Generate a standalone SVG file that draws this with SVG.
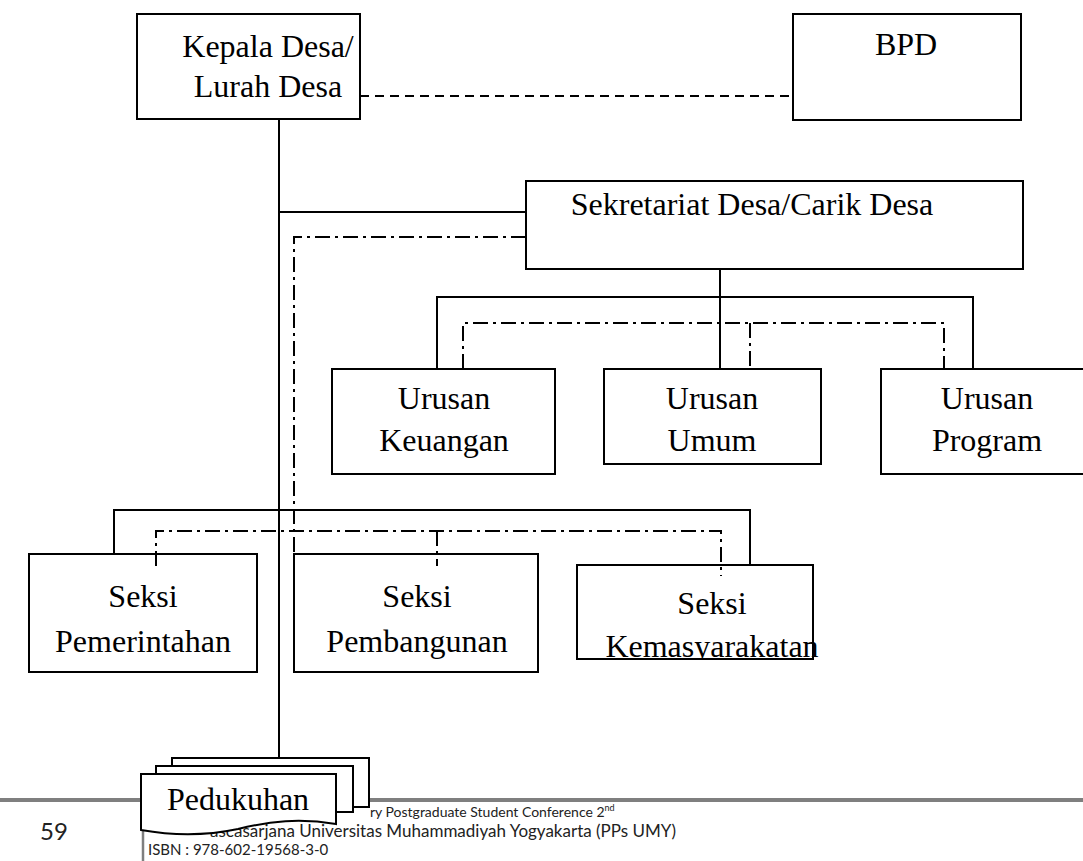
<svg xmlns="http://www.w3.org/2000/svg" width="1083" height="861" viewBox="0 0 1083 861">
<style>
.box{fill:#fff;stroke:#000;stroke-width:2}
.t{font-family:"Liberation Serif","Times New Roman",serif;font-size:32px;text-anchor:middle;fill:#000}
.ln{fill:none;stroke:#000;stroke-width:2}
.dash{stroke-dasharray:9 6}
.dd{stroke-dasharray:15 5 3 5}
.ft{font-family:Lato,"Open Sans",sans-serif;fill:#222}
.gray{stroke:#7f7f7f;fill:none}
</style>
<defs>
<clipPath id="kemclip"><rect x="560" y="566" width="300" height="93"/></clipPath>
</defs>
<rect width="1083" height="861" fill="#fff"/>
<g id="footer">
<line class="gray" x1="0" y1="800" x2="1083" y2="800" stroke-width="4"/>
<line class="gray" x1="143" y1="800" x2="143" y2="861" stroke-width="2.5"/>
<text class="ft" x="40" y="840" font-size="24">59</text>
<text class="ft" x="370" y="817" font-size="14">ry Postgraduate Student Conference 2<tspan font-size="9" dy="-6">nd</tspan></text>
<text class="ft" x="210" y="837" font-size="17">ascasarjana Universitas Muhammadiyah Yogyakarta (PPs UMY)</text>
<text class="ft" x="148" y="855" font-size="15">ISBN : 978-602-19568-3-0</text>
</g>
<g id="kepala">
<rect class="box" x="137" y="14" width="223" height="105"/>
<text class="t" x="268" y="57" font-size="28">Kepala Desa/</text>
<text class="t" x="268" y="97" font-size="28">Lurah Desa</text>
</g>
<g id="bpd">
<rect class="box" x="793" y="14" width="228" height="106"/>
<text class="t" x="906" y="55">BPD</text>
</g>
<g id="sekretariat">
<rect class="box" x="526" y="181" width="497" height="88"/>
<text class="t" x="752" y="215">Sekretariat Desa/Carik Desa</text>
</g>
<g id="keuangan">
<rect class="box" x="332" y="369" width="223" height="105"/>
<text class="t" x="444" y="409">Urusan</text>
<text class="t" x="444" y="451">Keuangan</text>
</g>
<g id="umum">
<rect class="box" x="604" y="369" width="217" height="95"/>
<text class="t" x="712" y="409">Urusan</text>
<text class="t" x="712" y="451">Umum</text>
</g>
<g id="program">
<rect class="box" x="881" y="369" width="212" height="105"/>
<text class="t" x="987" y="409">Urusan</text>
<text class="t" x="987" y="451">Program</text>
</g>
<g id="pemerintahan">
<rect class="box" x="29" y="554" width="228" height="118"/>
<text class="t" x="143" y="607">Seksi</text>
<text class="t" x="143" y="652">Pemerintahan</text>
</g>
<g id="pembangunan">
<rect class="box" x="294" y="554" width="244" height="118"/>
<text class="t" x="417" y="607">Seksi</text>
<text class="t" x="417" y="652">Pembangunan</text>
</g>
<g id="kemasyarakatan">
<rect class="box" x="577" y="565" width="236" height="94"/>
<g clip-path="url(#kemclip)">
<text class="t" x="712" y="614">Seksi</text>
<text class="t" x="712" y="657">Kemasyarakatan</text>
</g>
</g>
<g id="pedukuhan">
<rect class="box" x="172" y="758" width="197" height="49"/>
<rect class="box" x="156" y="766" width="197" height="46"/>
<path class="box" d="M141 774 H336 V824 C300 818 270 821 238 829 C205 836 175 836 141 830 Z"/>
<text class="t" x="238" y="810">Pedukuhan</text>
</g>
<g id="connectors">
<path class="ln dash" d="M360 96 H793"/>
<path class="ln" d="M279 119 V758"/>
<path class="ln" d="M279 212 H526"/>
<path class="ln dd" d="M526 237 H294 V554"/>
<path class="ln" d="M720 269 V369"/>
<path class="ln" d="M437 369 V297 H973 V369"/>
<path class="ln dd" d="M463 369 V323 H944 V369"/>
<path class="ln dd" d="M750 323 V369"/>
<path class="ln" d="M114 554 V510 H750 V565"/>
<path class="ln dd" d="M156 566 V531 H721 V576"/>
<path class="ln dd" d="M437 531 V566"/>
</g>
</svg>
